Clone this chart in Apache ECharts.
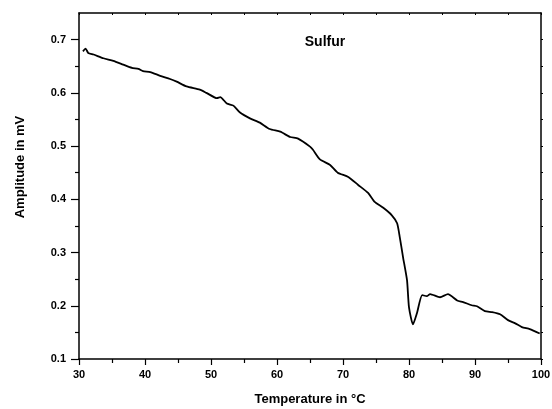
<!DOCTYPE html>
<html>
<head>
<meta charset="utf-8">
<script src="https://cdn.jsdelivr.net/npm/echarts@6/dist/echarts.min.js"></script>
<style>html,body{margin:0;padding:0;background:#fff}#c{width:552px;height:409px}</style>
</head>
<body>
<div id="c"></div>
<script>
var chartTitle = 'Sulfur';
var xName = 'Temperature in °C';
var yName = 'Amplitude in mV';
var temperature = [30.6, 31.0, 31.4, 32.2, 33.7, 35.2, 36.7, 38.0, 39.0, 39.7, 40.8, 42.3, 43.8, 44.8, 46.3, 48.3, 49.3, 50.9, 51.4, 52.4, 53.4, 54.4, 55.9, 57.4, 58.9, 60.5, 62.0, 63.2, 65.0, 65.45, 66.5, 68.0, 69.2, 70.8, 72.3, 73.8, 74.8, 76.1, 77.4, 78.2, 78.6, 79.1, 79.7, 80.0, 80.6, 81.2, 82.0, 82.7, 83.2, 84.7, 85.9, 87.3, 88.2, 89.5, 90.3, 91.5, 92.6, 93.8, 95.0, 96.1, 97.1, 98.3, 99.8];
var amplitude = [0.678, 0.683, 0.675, 0.672, 0.665, 0.660, 0.653, 0.647, 0.645, 0.641, 0.639, 0.632, 0.626, 0.621, 0.612, 0.606, 0.600, 0.590, 0.592, 0.580, 0.576, 0.563, 0.552, 0.544, 0.532, 0.527, 0.517, 0.514, 0.499, 0.493, 0.475, 0.465, 0.450, 0.442, 0.427, 0.412, 0.395, 0.384, 0.370, 0.355, 0.329, 0.291, 0.248, 0.197, 0.165, 0.186, 0.220, 0.218, 0.222, 0.216, 0.222, 0.210, 0.207, 0.201, 0.199, 0.190, 0.188, 0.184, 0.173, 0.167, 0.160, 0.156, 0.148];
var yMajorTicks = [0.1, 0.2, 0.3, 0.4, 0.5, 0.6, 0.7];
var yMinorTicks = [0.15, 0.25, 0.35, 0.45, 0.55, 0.65];

var data = temperature.map(function (t, i) { return [t, amplitude[i]]; });
var font = '"Liberation Sans", Arial, sans-serif';
var lab = {fontFamily: font, fontWeight: 'bold', fontSize: 11, color: '#000'};
var line = {show: true, lineStyle: {color: '#000', width: 1.5}};

var chart = echarts.init(document.getElementById('c'), null, {renderer: 'canvas'});
chart.setOption({
  animation: false,
  backgroundColor: '#fff',
  title: {
    text: chartTitle, left: 320, top: 30, textAlign: 'center',
    textStyle: {fontFamily: font, fontWeight: 'bold', fontSize: 14, color: '#000'}
  },
  grid: {left: 79, right: 11, top: 13, bottom: 50, containLabel: false, outerBoundsMode: 'none'},
  xAxis: [{
    type: 'value', min: 30, max: 100, interval: 10, position: 'bottom',
    name: xName, nameLocation: 'middle', nameGap: 34,
    nameTextStyle: {fontFamily: font, fontWeight: 'bold', fontSize: 13, color: '#000'},
    axisLine: line,
    axisTick: {show: true, length: 6, inside: false, lineStyle: {color: '#000', width: 1.2}},
    minorTick: {show: true, splitNumber: 2, length: 4, lineStyle: {color: '#000', width: 1.2}},
    axisLabel: Object.assign({margin: 10}, lab),
    splitLine: {show: false}
  }, {
    type: 'value', min: 30, max: 100, interval: 10, position: 'top',
    axisLine: line,
    axisTick: {show: true, length: 2, inside: true, lineStyle: {color: '#000'}},
    minorTick: {show: true, splitNumber: 2, length: 2, lineStyle: {color: '#000'}},
    axisLabel: {show: false}, splitLine: {show: false}
  }],
  yAxis: [{
    type: 'value', min: 0.1, max: 0.75, position: 'left',
    name: yName, nameLocation: 'middle', nameGap: 52, nameRotate: 90,
    nameTextStyle: {fontFamily: font, fontWeight: 'bold', fontSize: 13, color: '#000', padding: [0, 0, 0, 38]},
    axisLine: line,
    axisTick: {show: true, length: 8, inside: false, customValues: yMajorTicks, lineStyle: {color: '#000', width: 1.2}},
    axisLabel: Object.assign({margin: 13, customValues: yMajorTicks, formatter: function (v) { return v.toFixed(1); }}, lab),
    splitLine: {show: false}
  }, {
    type: 'value', min: 0.1, max: 0.75, position: 'left',
    axisLine: {show: false},
    axisTick: {show: true, length: 4, inside: false, customValues: yMinorTicks, lineStyle: {color: '#000', width: 1.2}},
    axisLabel: {show: false}, splitLine: {show: false}
  }, {
    type: 'value', min: 0.1, max: 0.75, position: 'right',
    axisLine: line,
    axisTick: {show: true, length: 2, inside: false, customValues: yMajorTicks.concat(yMinorTicks), lineStyle: {color: '#000'}},
    axisLabel: {show: false}, splitLine: {show: false}
  }],
  series: [{
    type: 'line', data: data, xAxisIndex: 0, yAxisIndex: 0,
    showSymbol: false, symbol: 'none', smooth: 0.2,
    lineStyle: {color: '#000', width: 1.8}
  }]
});
</script>
</body>
</html>
